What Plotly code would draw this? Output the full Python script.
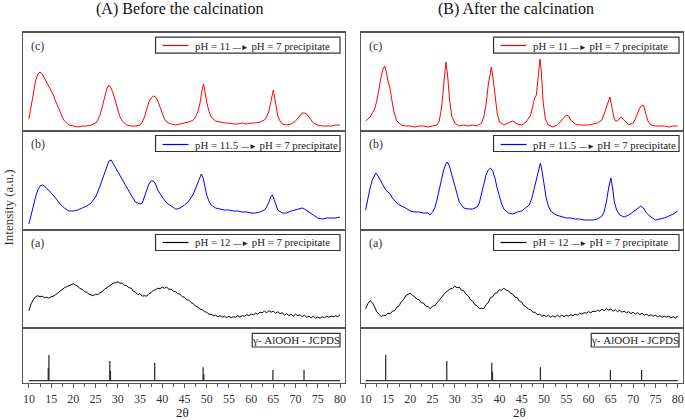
import plotly.graph_objects as go

# ---------------- data (heights in arbitrary units) ----------------
TICK_VALUES = list(range(10, 85, 5))

before_c_x = [10, 10.5, 11, 11.5, 12, 12.5, 13, 13.5, 14, 14.5, 15, 15.5, 16, 16.5, 17, 17.5, 18, 19, 20, 21, 22, 23, 24, 25, 25.5, 26, 26.5, 27, 27.5, 28, 28.5, 29, 29.5, 30, 30.5, 31, 32, 33, 34, 35, 35.5, 36, 36.5, 37, 37.5, 38, 38.5, 39, 39.5, 40, 40.5, 41, 42, 43, 44, 45, 46, 47, 47.5, 48, 48.5, 49, 49.3, 49.6, 50, 50.5, 51, 52, 53, 54, 55, 56, 57, 58, 59, 60, 61, 62, 63, 63.5, 64, 64.5, 65, 65.5, 66, 66.5, 67, 68, 69, 70, 70.5, 71, 71.5, 72, 72.5, 73, 73.5, 74, 75, 76, 77, 78, 79, 80]
before_c_y = [12, 25, 38, 50, 57, 59, 57, 53, 48, 44, 41, 36, 30, 24, 19, 14, 10, 6, 5, 4, 5, 5, 6, 8, 11, 16, 24, 34, 42, 46, 43, 37, 29, 21, 14, 10, 6, 5, 5, 6, 9, 14, 22, 29, 33, 35, 34, 30, 24, 17, 12, 9, 7, 6, 7, 8, 9, 11, 14, 19, 28, 42, 47, 40, 29, 20, 14, 10, 9, 8, 8, 7, 7, 8, 7, 8, 8, 9, 11, 14, 20, 30, 41, 28, 15, 10, 7, 6, 7, 10, 13, 16, 18, 18, 17, 14, 11, 8, 6, 5, 5, 5, 6, 6]

after_c_x = [10, 11, 12, 12.5, 13, 13.5, 14, 14.3, 14.7, 15, 15.4, 15.8, 16.3, 17, 18, 19, 20, 21, 22, 23, 24, 25, 26, 26.5, 27, 27.5, 28, 28.4, 28.8, 29.3, 30, 31, 32, 33, 34, 35, 36, 36.5, 37, 37.5, 38, 38.2, 38.6, 39, 39.5, 40, 41, 42, 43, 44, 45, 46, 47, 47.5, 47.9, 48.3, 48.7, 49.1, 49.4, 49.8, 50.3, 51, 52, 53, 54, 55, 55.5, 56, 57, 58, 59, 60, 61, 62, 63, 63.5, 64, 64.5, 64.8, 65.2, 65.6, 66, 66.5, 67, 67.3, 68, 68.5, 69, 70, 70.5, 71, 71.5, 72, 72.4, 72.8, 73.3, 74, 75, 76, 77, 78, 79, 80]
after_c_y = [10, 14, 22, 30, 42, 55, 63, 65, 58, 50, 44, 35, 20, 10, 6, 5, 5, 4, 5, 5, 4, 5, 6, 10, 22, 45, 69, 55, 33, 15, 8, 5, 6, 5, 6, 5, 8, 14, 26, 46, 62, 64, 52, 35, 18, 9, 6, 8, 10, 7, 6, 9, 16, 25, 33, 36, 55, 72, 60, 30, 12, 6, 4, 6, 11, 16, 15, 11, 7, 6, 6, 6, 7, 8, 11, 17, 24, 30, 34, 25, 15, 10, 10, 13, 14, 11, 8, 6, 8, 12, 18, 23, 26, 25, 18, 10, 6, 5, 5, 5, 4, 5, 5]

before_b_x = [10, 10.5, 11, 11.5, 12, 12.5, 13, 13.5, 14, 14.5, 15, 16, 17, 18, 19, 20, 21, 22, 23, 24, 25, 26, 27, 27.5, 28, 28.5, 29, 29.5, 30, 31, 32, 33, 34, 35, 35.5, 36, 36.5, 37, 37.5, 38, 38.5, 39, 40, 41, 42, 43, 43.5, 44, 45, 46, 47, 47.5, 48, 48.5, 48.8, 49.2, 49.6, 50, 50.5, 51, 52, 53, 54, 55, 56, 57, 58, 59, 60, 61, 62, 63, 63.5, 64, 64.5, 64.8, 65.2, 65.6, 66, 67, 68, 69, 70, 71, 71.5, 72, 73, 74, 75, 76, 77, 78, 79, 80]
before_b_y = [6, 14, 24, 33, 40, 44, 45, 44, 42, 40, 37, 32, 26, 22, 19, 19, 20, 22, 24, 27, 33, 44, 57, 64, 69, 70, 66, 63, 58, 50, 42, 35, 28, 26, 27, 33, 40, 46, 49, 49, 46, 40, 33, 27, 24, 21, 21, 22, 25, 29, 36, 42, 48, 54, 56, 52, 42, 35, 29, 25, 22, 21, 20, 20, 19, 19, 18, 18, 17, 17, 18, 20, 23, 28, 34, 35, 30, 24, 20, 17, 17, 19, 20, 21, 22, 21, 18, 15, 12, 11, 12, 12, 12, 13]

after_b_x = [10, 10.5, 11, 11.5, 12, 12.3, 12.8, 13.3, 14, 14.5, 15, 15.5, 16, 17, 18, 19, 20, 21, 22, 23, 24, 24.4, 25, 25.5, 26, 26.5, 27, 27.5, 28, 28.3, 28.8, 29.3, 30, 30.5, 31, 32, 33, 34, 35, 35.5, 36, 36.5, 37, 37.5, 38, 38.5, 39, 39.5, 40, 40.5, 41, 42, 43, 44, 45, 46, 46.7, 47.3, 47.8, 48.3, 48.8, 49.2, 49.6, 50, 50.5, 51, 51.5, 52.7, 54, 55, 56, 57, 58, 59, 60, 61, 62, 63, 63.5, 64, 64.5, 65, 65.4, 65.8, 66.3, 67, 68, 69, 70, 71, 71.7, 72.3, 73, 74, 75, 76, 77, 78, 79, 80]
after_b_y = [20, 32, 42, 50, 55, 57, 54, 50, 45, 40, 38, 36, 32, 27, 24, 22, 19, 18, 18, 17, 17, 15, 18, 22, 30, 40, 50, 60, 66, 68, 64, 56, 45, 36, 28, 22, 21, 21, 23, 27, 36, 46, 55, 60, 62, 59, 52, 42, 33, 26, 21, 17, 16, 18, 19, 22, 25, 32, 42, 52, 62, 67, 58, 45, 32, 24, 19, 15, 13, 12, 12, 11, 11, 10, 10, 10, 11, 14, 18, 28, 42, 52, 42, 28, 20, 15, 13, 15, 18, 22, 24, 22, 17, 13, 10, 11, 12, 14, 16, 19]

# (a) curves sampled every 0.5 degree from 10 to 80
grid_half_deg = [10 + 0.5 * i for i in range(141)]
before_a_y = [17, 24, 28, 31, 32, 31, 31.5, 30, 30.5, 29.5, 31, 31.5, 33, 35, 37, 38, 40, 41, 42, 43,
              44, 42.5, 41.5, 39, 38.5, 36, 35.5, 33.5, 33, 32, 33.5, 33, 35, 36, 38.5, 40, 42, 43, 44.5, 45,
              46, 44.5, 44.5, 42.5, 42, 40, 39.5, 36.5, 35.5, 33, 34, 31.5, 32, 31.5, 34, 35, 37.5, 38, 39.5, 39,
              40.5, 39.5, 40.5, 38.5, 38.5, 36.5, 36, 34, 33.5, 31, 30.5, 28, 27.5, 25, 24, 21.5, 20.5, 18.5, 18, 16,
              15.5, 13.5, 13.5, 12, 12.5, 11, 12, 10.5, 11.5, 10, 11.5, 10, 11, 10.5, 12, 10.5, 12, 11.5, 13, 12,
              13.5, 13, 14.5, 13.5, 15.5, 15, 16.5, 15, 17, 15.5, 16.5, 14.5, 16, 14, 15, 12.5, 14, 12, 13.5, 11.5,
              13.5, 12, 13, 11, 12.5, 10.5, 11.5, 10, 11.5, 9.5, 10.5, 9.5, 11, 10, 11.5, 10.5, 11.5, 11, 12, 11,
              13]
after_a_y = [19, 24, 27, 25, 21, 16, 13.5, 11, 12.5, 12, 14.5, 14, 16.5, 17, 20.5, 22, 26, 28, 32, 33,
             34.5, 32.5, 31, 28.5, 28, 25, 24.5, 21.5, 21, 19, 21.5, 22, 25, 27, 30, 33, 35.5, 37, 39, 39.5,
             41.5, 40, 40.5, 37.5, 37, 33.5, 32, 28, 26.5, 23, 22, 19, 19.5, 19, 23, 25, 30, 31, 34.5, 35,
             38, 37.5, 39.5, 37.5, 37, 34.5, 33.5, 30.5, 30, 26.5, 25.5, 22, 21, 18.5, 18, 15.5, 15.5, 13, 13.5, 11.5,
             12.5, 11, 12.5, 10.5, 12, 10.5, 12.5, 11, 12.5, 11, 12.5, 11.5, 13, 12, 13.5, 12.5, 14.5, 13.5, 15, 14.5,
             16, 15, 16.5, 16, 17.5, 16.5, 18.5, 17, 19, 17.5, 18.5, 16.5, 18, 16, 17.5, 15.5, 16.5, 15, 16, 14,
             15.5, 13.5, 15, 13, 14.5, 12.5, 13.5, 12, 13, 11.5, 12.5, 11, 12, 10.5, 11.5, 10.5, 11.5, 10, 11, 9.5,
             12]

# reference pattern (gamma-AlOOH JCPDS)
ref_before_pos = [14.5, 14.35, 28.2, 28.35, 38.3, 49.2, 49.35, 64.9, 71.9]
ref_before_int = [25.7, 12.7, 19.7, 9.7, 18.0, 13.4, 6.4, 10.7, 10.7]
ref_after_pos = [14.5, 28.2, 38.3, 38.45, 49.2, 64.9, 71.9]
ref_after_int = [25.7, 19.7, 18.0, 9.0, 13.4, 10.7, 10.7]

ARROW = "<span style='font-size:8px'>\u2014\u25ba</span>"
series_names = ["pH = 11 " + ARROW + " pH = 7 precipitate",
                "pH = 11.5 " + ARROW + " pH = 7 precipitate",
                "pH = 12 " + ARROW + " pH = 7 precipitate"]
panel_labels = ["(c)", "(b)", "(a)"]
column_titles = ["(A) Before the calcination", "(B) After the calcination"]
ref_label = "\u03b3- AlOOH - JCPDS"

# ---------------- layout helpers ----------------
W, H = 685, 420
FONT = "Liberation Serif, Times New Roman, serif"
FRAME = "#555555"

def py(y):
    return 1 - y / H

def px(x):
    return x / W

col_px = [(22, 345), (361, 684)]
col_range = [[8.654, 81.12], [8.949, 81.185]]
row_px = [(32.7, 131), (131, 230), (230, 327.7), (327.7, 383)]

fig = go.Figure()

curves = [
    [(before_c_x, before_c_y), (before_b_x, before_b_y), (grid_half_deg, before_a_y)],
    [(after_c_x, after_c_y), (after_b_x, after_b_y), (grid_half_deg, after_a_y)],
]
refs = [(ref_before_pos, ref_before_int), (ref_after_pos, ref_after_int)]
colors = ["#ff0000", "#0000ff", "#000000"]

layout = dict(width=W, height=H, margin=dict(l=0, r=0, t=0, b=0),
              paper_bgcolor="white", plot_bgcolor="white", showlegend=False,
              font=dict(family=FONT, color="#222"))
shapes, annots = [], []

n = 0
for c in range(2):
    for r in range(4):
        n += 1
        xa = "xaxis" if n == 1 else f"xaxis{n}"
        ya = "yaxis" if n == 1 else f"yaxis{n}"
        xr = "x" if n == 1 else f"x{n}"
        yr = "y" if n == 1 else f"y{n}"
        top, bot = row_px[r]
        bottom_row = (r == 3)
        layout[xa] = dict(domain=[px(col_px[c][0]), px(col_px[c][1])], range=col_range[c],
                          anchor=yr, showline=True, mirror=True, linecolor=FRAME, linewidth=1.2,
                          showgrid=False, zeroline=False,
                          ticks="outside" if bottom_row else "", showticklabels=bottom_row,
                          tickmode="array", tickvals=TICK_VALUES, ticklen=4, tickcolor=FRAME,
                          tickfont=dict(family=FONT, size=12, color="#333"))
        if bottom_row:
            layout[xa]["minor"] = dict(tickvals=[v + 2.5 for v in TICK_VALUES[:-1]],
                                       ticks="outside", ticklen=3, tickcolor=FRAME)
        if r < 3:
            yrange = [0, bot - top]
        else:
            yrange = [-2.3, bot - top - 2.3]
        layout[ya] = dict(domain=[py(bot), py(top)], range=yrange, anchor=xr,
                          showline=True, mirror=True, linecolor=FRAME, linewidth=1.2,
                          showgrid=False, zeroline=False, showticklabels=False, ticks="")
        if r < 3:
            xs, ys = curves[c][r]
            fig.add_trace(go.Scatter(x=xs, y=ys, mode="lines", xaxis=xr, yaxis=yr,
                                     line=dict(color=colors[r], width=1)))
            x0 = col_px[c][0]
            annots.append(dict(x=px(x0 + 6), y=py(top + 12.8), xref="paper", yref="paper",
                               text=panel_labels[r], showarrow=False, xanchor="left",
                               yanchor="middle", font=dict(family=FONT, size=12, color="#333")))
            bl, br = (155, 340) if c == 0 else (494, 680)
            bt, bb = top + 4.5, top + 20.5
            shapes.append(dict(type="rect", xref="paper", yref="paper",
                               x0=px(bl), x1=px(br), y0=py(bb), y1=py(bt),
                               line=dict(color="#333333", width=1.2)))
            ym = round((bt + bb) / 2) + 0.5
            shapes.append(dict(type="line", xref="paper", yref="paper",
                               x0=px(bl + 7), x1=px(bl + 33), y0=py(ym), y1=py(ym),
                               line=dict(color=colors[r], width=1.2)))
            annots.append(dict(x=px(bl + 38), y=py(ym), xref="paper", yref="paper",
                               text=series_names[r], showarrow=False, xanchor="left",
                               yanchor="middle", font=dict(family=FONT, size=10.8, color="#222")))
        else:
            pos, inten = refs[c]
            sx, sy = [], []
            for p, h in zip(pos, inten):
                sx += [p, p, None]
                sy += [0, h, None]
            fig.add_trace(go.Scatter(x=[10, 80], y=[0, 0], mode="lines", xaxis=xr, yaxis=yr,
                                     line=dict(color="#333", width=1.2)))
            fig.add_trace(go.Scatter(x=sx, y=sy, mode="lines", xaxis=xr, yaxis=yr,
                                     line=dict(color="#222", width=1.2)))
            bl, br = (252, 340) if c == 0 else (592, 680)
            bt, bb = 333.3, 347
            shapes.append(dict(type="rect", xref="paper", yref="paper",
                               x0=px(bl), x1=px(br), y0=py(bb), y1=py(bt),
                               line=dict(color="#333333", width=1.2)))
            annots.append(dict(x=px((bl + br) / 2), y=py((bt + bb) / 2 + 0.3), xref="paper",
                               yref="paper", text=ref_label, showarrow=False,
                               xanchor="center", yanchor="middle",
                               font=dict(family=FONT, size=11, color="#222")))
    annots.append(dict(x=px(179 if c == 0 else 517), y=py(9), xref="paper", yref="paper",
                       text=column_titles[c], showarrow=False, xanchor="center", yanchor="middle",
                       font=dict(family=FONT, size=16, color="#111")))
    annots.append(dict(x=px(182.5 if c == 0 else 520), y=py(412), xref="paper", yref="paper",
                       text="2\u03b8", showarrow=False, xanchor="center", yanchor="middle",
                       font=dict(family=FONT, size=13, color="#222")))

annots.append(dict(x=px(8), y=py(207.5), xref="paper", yref="paper", text="Intensity (a.u.)",
                   textangle=-90, showarrow=False, xanchor="center", yanchor="middle",
                   font=dict(family=FONT, size=13, color="#333")))

layout["shapes"] = shapes
layout["annotations"] = annots
fig.update_layout(**layout)
fig.write_html("out.html", config={"displayModeBar": False, "staticPlot": True},
               post_script="document.body.style.margin='0';document.body.style.overflow='hidden';")
